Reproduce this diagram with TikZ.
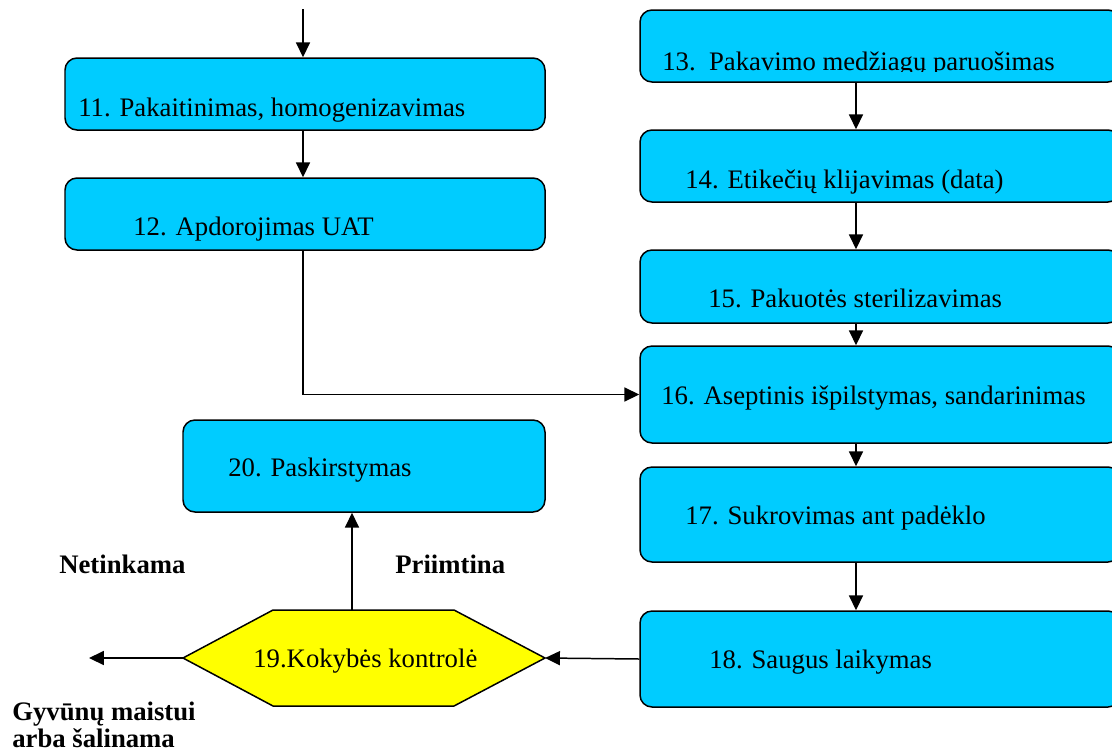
\documentclass[tikz,border=0pt]{standalone}
\usepackage{fontspec}
\setmainfont{Liberation Serif}
\usetikzlibrary{arrows.meta,fit}

\definecolor{boxcyan}{RGB}{0,204,255}
\definecolor{hexyellow}{RGB}{255,255,0}

\tikzset{
  stepbox/.style={draw, fill=boxcyan, rounded corners=0.24cm, line width=0.85pt, inner sep=0pt},
  steptext/.style={anchor=base west, inner sep=0pt, font=\fontsize{15.2}{18}\selectfont},
  labeltext/.style={anchor=base west, inner sep=0pt, font=\fontsize{15.2}{18}\selectfont\bfseries},
  flow/.style={line width=0.85pt, -{Triangle[length=8.5pt,width=8pt]}}
}

\begin{document}
\begin{tikzpicture}[x=0.02cm,y=-0.02cm]
\clip (0,0) rectangle (1112,751);
% left column
\node[stepbox, fit={(65,58) (545,130)}] (b11) {};
\node[stepbox, fit={(65,178) (545,250)}] (b12) {};
\node[stepbox, fit={(183,420) (545,512)}] (b20) {};
% right column
\node[stepbox, fit={(640,10) (1120,82)}] (b13) {};
\node[stepbox, fit={(640,130) (1120,202)}] (b14) {};
\node[stepbox, fit={(640,250) (1120,323)}] (b15) {};
\node[stepbox, fit={(640,346) (1120,443)}] (b16) {};
\node[stepbox, fit={(640,467) (1120,562)}] (b17) {};
\node[stepbox, fit={(640,611) (1120,707)}] (b18) {};
% quality control hexagon
\draw[fill=hexyellow, line width=0.85pt] (183,658) -- (273,610) -- (454,610)
  -- (545,658) -- (454,706) -- (273,706) -- cycle;
\coordinate (h19w) at (183,658);
\coordinate (h19e) at (545,658);
\coordinate (h19n) at (352,610);
% texts
\node[steptext] (t11) at (78,116) {11. Pakaitinimas, homogenizavimas};
\node[steptext] (t12) at (133,235) {12. Apdorojimas UAT};
\begin{scope}
\clip (640,10) rectangle (1112,71);
\node[steptext] (t13) at (662,70) {13.\ \ Pakavimo medžiagų paruošimas};
\end{scope}
\node[steptext] (t14) at (685,188) {14. Etikečių klijavimas (data)};
\node[steptext] (t15) at (708,307) {15. Pakuotės sterilizavimas};
\node[steptext] (t16) at (661,404) {16. Aseptinis išpilstymas, sandarinimas};
\node[steptext] (t17) at (685,524) {17. Sukrovimas ant padėklo};
\node[steptext] (t18) at (709,668) {18. Saugus laikymas};
\node[steptext] (t20) at (228,476) {20. Paskirstymas};
\node[steptext] (t19) at (253,667) {19.Kokybės kontrolė};
\node[labeltext] (l_no) at (59,573) {Netinkama};
\node[labeltext] (l_yes) at (395,573) {Priimtina};
\node[labeltext, align=left, anchor=north west] (l_feed) at (12,702) {Gyvūnų maistui\\[-3pt]arba šalinama};
% connectors
\coordinate (in) at (303,9);
\coordinate (col) at (856,0);
\coordinate (out) at (89,658);
\draw[flow] (in) -- (b11.north -| in);
\draw[flow] (b11.south -| in) -- (b12.north -| in);
\draw[flow] (b12.south -| in) |- (b16.west);
\draw[flow] (b13.south -| col) -- (b14.north -| col);
\draw[flow] (b14.south -| col) -- (b15.north -| col);
\draw[flow] (b15.south -| col) -- (b16.north -| col);
\draw[flow] (b16.south -| col) -- (b17.north -| col);
\draw[flow] (b17.south -| col) -- (b18.north -| col);
\draw[flow] (b18.west) -- (h19e);
\draw[flow] (h19n) -- (b20.south -| h19n);
\draw[flow] (h19w) -- (out);
\end{tikzpicture}
\end{document}
